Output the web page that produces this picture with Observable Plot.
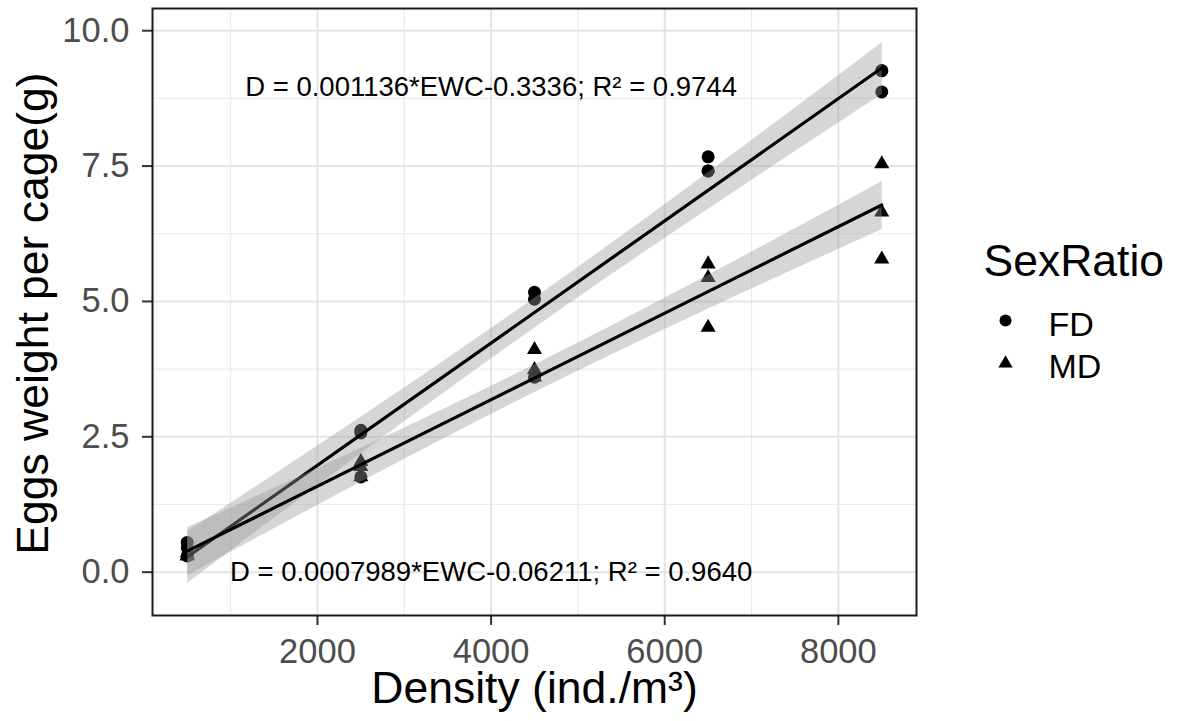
<!DOCTYPE html>
<html>
<head>
<meta charset="utf-8">
<script src="https://cdn.jsdelivr.net/npm/d3@7"></script>
<script src="https://cdn.jsdelivr.net/npm/@observablehq/plot@0.6"></script>
<style>
  html, body { margin: 0; padding: 0; background: white; }
  #chart { width: 1178px; height: 721px; }
</style>
</head>
<body>
<div id="chart"></div>
<script>
// ---- data ----
const densities = [500, 2500, 4500, 6500, 8500];
const fdEggs = [[0.55, 0.45, 0.30], [2.62, 2.57, 1.76], [5.17, 5.04, 3.60], [7.67, 7.41, 7.41], [9.26, 9.26, 8.87]];
const mdEggs = [[0.30, 0.30, 0.35], [2.04, 1.95, 1.76], [4.11, 3.74, 3.60], [5.69, 5.44, 4.52], [7.54, 6.65, 5.78]];
const groups = ["FD", "MD"];
const xTicks = [2000, 4000, 6000, 8000];
const xMinor = [1000, 3000, 5000, 7000];
const yTicks = [0, 2.5, 5, 7.5, 10];
const yMinor = [1.25, 3.75, 6.25, 8.75];
const eqLabels = ["D = 0.001136*EWC-0.3336; R² = 0.9744", "D = 0.0007989*EWC-0.06211; R² = 0.9640"];
const eqX = [4000, 4000];
const eqY = [8.95, 0];
const xTitle = "Density (ind./m³)";
const yTitle = "Eggs weight per cage(g)";
const legendTitle = "SexRatio";

// ---- table ----
const rows = [];
[fdEggs, mdEggs].forEach((series, gi) => {
  series.forEach((vals, i) => vals.forEach(v => rows.push({density: densities[i], eggs: v, group: groups[gi]})));
});
const fdRows = rows.filter(d => d.group === "FD");
const mdRows = rows.filter(d => d.group === "MD");
const eqs = eqLabels.map((t, i) => ({x: eqX[i], y: eqY[i], text: t}));

const font = "'Liberation Sans', Arial, Helvetica, sans-serif";

const chart = Plot.plot({
  width: 1178,
  height: 721,
  marginLeft: 152,
  marginRight: 262,
  marginTop: 8,
  marginBottom: 106,
  style: {fontFamily: font, background: "white"},
  x: {domain: [100, 8900]},
  y: {domain: [-0.8, 10.41]},
  marks: [
    Plot.gridX(xMinor, {stroke: "#ebebeb", strokeOpacity: 1, strokeWidth: 1.2}),
    Plot.gridY(yMinor, {stroke: "#ebebeb", strokeOpacity: 1, strokeWidth: 1.2}),
    Plot.gridX(xTicks, {stroke: "#e4e4e4", strokeOpacity: 1, strokeWidth: 2}),
    Plot.gridY(yTicks, {stroke: "#e4e4e4", strokeOpacity: 1, strokeWidth: 2}),
    Plot.axisX({ticks: xTicks, tickSize: 10, tickPadding: 12.5, fontSize: 34.5, fill: "#4d4d4d", stroke: "#333", strokeWidth: 2, label: null, tickFormat: d => String(d)}),
    Plot.axisY({ticks: yTicks, tickSize: 10, tickPadding: 13, fontSize: 34.5, fill: "#4d4d4d", stroke: "#333", strokeWidth: 2, label: null, tickFormat: d => d.toFixed(1)}),
    Plot.dot(fdRows, {x: "density", y: "eggs", r: 6.5, fill: "black", symbol: "circle"}),
    Plot.dot(mdRows, {x: "density", y: "eggs", r: 5.6, fill: "black", symbol: "triangle"}),
    Plot.linearRegressionY(rows, {x: "density", y: "eggs", z: "group", stroke: "black", strokeWidth: 3.2, fill: "#999999", fillOpacity: 0.4, ci: 0.95}),
    Plot.text(eqs, {x: "x", y: "y", text: "text", fontSize: 27.5, fill: "black"}),
    Plot.frame({stroke: "#1a1a1a", strokeWidth: 2}),
    Plot.text([xTitle], {frameAnchor: "bottom", dy: 87, textAnchor: "middle", lineAnchor: "bottom", fontSize: 44.5, fill: "black"}),
    Plot.text([yTitle], {frameAnchor: "left", dx: -105, dy: 1.5, rotate: -90, textAnchor: "middle", lineAnchor: "bottom", fontSize: 44.5, fill: "black"}),
    // legend
    Plot.text([legendTitle], {frameAnchor: "right", dx: 67, dy: -36.5, textAnchor: "start", lineAnchor: "bottom", fontSize: 44.5, fill: "black"}),
    Plot.dot([groups[0]], {frameAnchor: "right", dx: 89, dy: 8.5, r: 6, fill: "black", symbol: "circle"}),
    Plot.dot([groups[1]], {frameAnchor: "right", dx: 89, dy: 51.5, r: 5.3, fill: "black", symbol: "triangle"}),
    Plot.text([groups[0]], {frameAnchor: "right", dx: 132, dy: 23.5, textAnchor: "start", lineAnchor: "bottom", fontSize: 34, fill: "black"}),
    Plot.text([groups[1]], {frameAnchor: "right", dx: 132, dy: 65.5, textAnchor: "start", lineAnchor: "bottom", fontSize: 34, fill: "black"})
  ]
});
document.getElementById("chart").appendChild(chart);
</script>
</body>
</html>
